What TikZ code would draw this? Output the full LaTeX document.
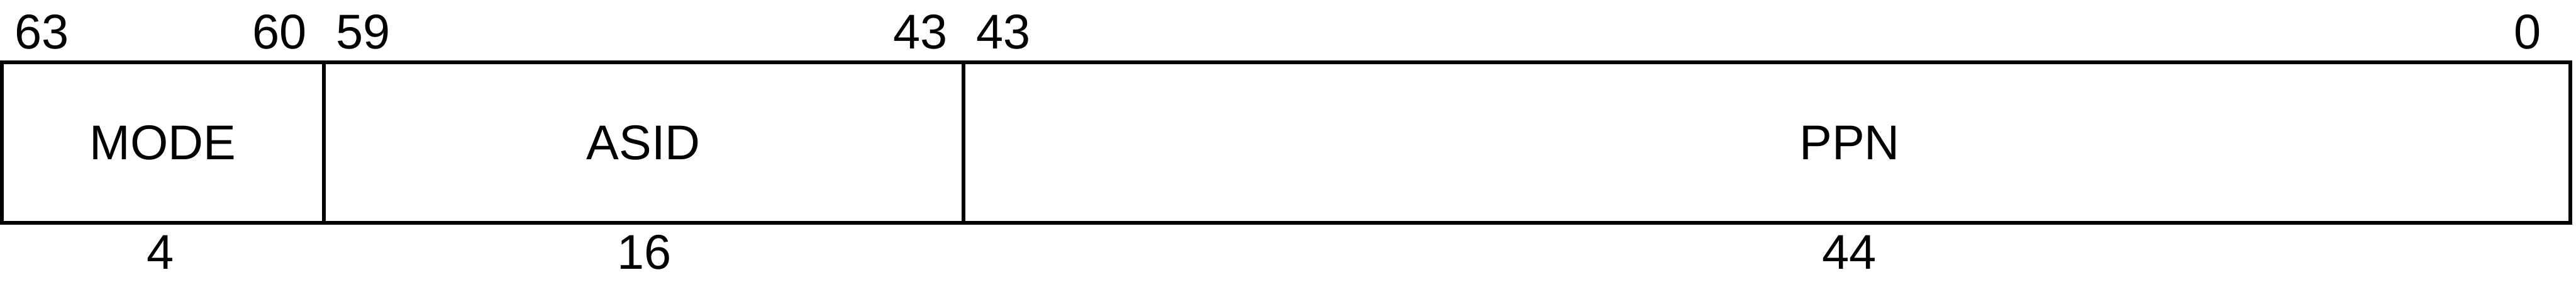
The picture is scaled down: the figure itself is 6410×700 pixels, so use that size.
\documentclass[tikz,border=0pt]{standalone}
\usepackage{fontspec}
\setmainfont{Liberation Sans}
\usetikzlibrary{positioning, calc}

\newcommand{\fieldfont}{\fontsize{34.5}{40}\selectfont}

\begin{document}
\begin{tikzpicture}[x=0.01cm, y=0.01cm, line width=2.7pt,
  field/.style={draw=black, rectangle, inner sep=0pt, outer sep=0pt,
    minimum height=3.998cm, font=\fieldfont},
  bitlbl/.style={inner sep=0pt, font=\fieldfont}]

% Canvas: 6410 x 700 px, 1px = 0.01cm
\useasboundingbox (0,0) rectangle (6410,700);

% --- Fields ---
\node[field, minimum width=8cm] (mode) at (405,345.4) {MODE};
\node[field, minimum width=15.91cm, right=0pt of mode] (asid) {ASID};
\node[field, minimum width=39.97cm, right=0pt of asid] (ppn) {};
\node[bitlbl] (ppnlbl) at ($(ppn.center)+(206,0)$) {PPN};

% --- Bit positions (top) ---
\node[bitlbl, anchor=base west] (b63) at ($(mode.north west)+(27,33.7)$) {63};
\node[bitlbl, anchor=base east] (b60) at ($(mode.north east)+(-37,33.7)$) {60};
\node[bitlbl, anchor=base west] (b59) at ($(asid.north west)+(27,33.7)$) {59};
\node[bitlbl, anchor=base east] (b43a) at ($(asid.north east)+(-35,33.7)$) {43};
\node[bitlbl, anchor=base west] (b43b) at ($(ppn.north west)+(27,33.7)$) {43};
\node[bitlbl, anchor=base east] (b0) at ($(ppn.north east)+(-68,33.7)$) {0};

% --- Field widths (bottom) ---
\node[bitlbl, anchor=base] (w4) at ($(mode.south)+(-6,-114.5)$) {4};
\node[bitlbl, anchor=base] (w16) at ($(asid.south)+(2,-114.5)$) {16};
\node[bitlbl, anchor=base] (w44) at ($(ppn.south)+(205,-114.5)$) {44};

\end{tikzpicture}
\end{document}
